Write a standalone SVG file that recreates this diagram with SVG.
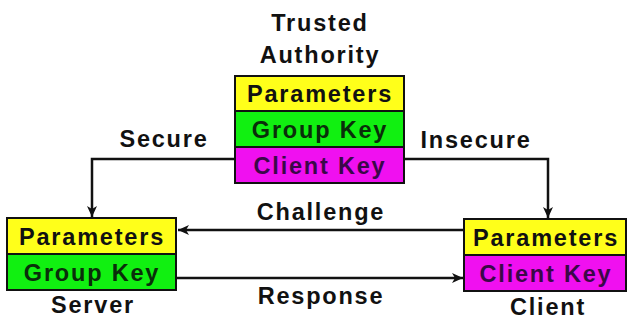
<svg xmlns="http://www.w3.org/2000/svg" width="629" height="320" viewBox="0 0 629 320">
<defs>
<style>
text{font-family:"Liberation Sans",Arial,sans-serif;font-weight:bold;font-size:23.5px;letter-spacing:1.8px;text-anchor:middle;fill:#111}
.box{stroke:#111;stroke-width:2}
.y{fill:#ffff1a}
.g{fill:#11f011}
.m{fill:#f010f0}
.tg{fill:#0a2e0a}
.tm{fill:#3a0848}
.line{fill:none;stroke:#111;stroke-width:2.5}
</style>
<marker id="arr" viewBox="0 0 12 12" refX="11" refY="6" markerWidth="12" markerHeight="12" markerUnits="userSpaceOnUse" orient="auto">
<path d="M0,1 L11,6 L0,11 L3,6 Z" fill="#111"/>
</marker>
</defs>
<rect width="629" height="320" fill="#ffffff"/>
<g id="connectors">
<polyline class="line" points="235,159 92,159 92,217" marker-end="url(#arr)"/>
<polyline class="line" points="404,159 548,159 548,218" marker-end="url(#arr)"/>
<line class="line" x1="464" y1="230" x2="178" y2="230" marker-end="url(#arr)"/>
<line class="line" x1="176" y1="278" x2="463" y2="278" marker-end="url(#arr)"/>
<text x="164" y="147">Secure</text>
<text x="476" y="148">Insecure</text>
<text x="321" y="220">Challenge</text>
<text x="321" y="304">Response</text>
</g>
<g id="authority">
<text x="320" y="31">Trusted</text>
<text x="320" y="63">Authority</text>
<rect class="box y" x="235" y="76" width="169" height="35"/>
<rect class="box g" x="235" y="111" width="169" height="36"/>
<rect class="box m" x="235" y="147" width="169" height="36"/>
<text x="320" y="102">Parameters</text>
<text class="tg" x="320" y="138">Group Key</text>
<text class="tm" x="320" y="174">Client Key</text>
</g>
<g id="server">
<rect class="box y" x="7" y="218" width="169" height="36"/>
<rect class="box g" x="7" y="254" width="169" height="36"/>
<text x="92" y="245">Parameters</text>
<text class="tg" x="92" y="281">Group Key</text>
<text x="93" y="313">Server</text>
</g>
<g id="client">
<rect class="box y" x="464" y="219" width="162" height="36"/>
<rect class="box m" x="464" y="255" width="162" height="36"/>
<text x="546" y="246">Parameters</text>
<text class="tm" x="546" y="282">Client Key</text>
<text x="548" y="315">Client</text>
</g>
</svg>
